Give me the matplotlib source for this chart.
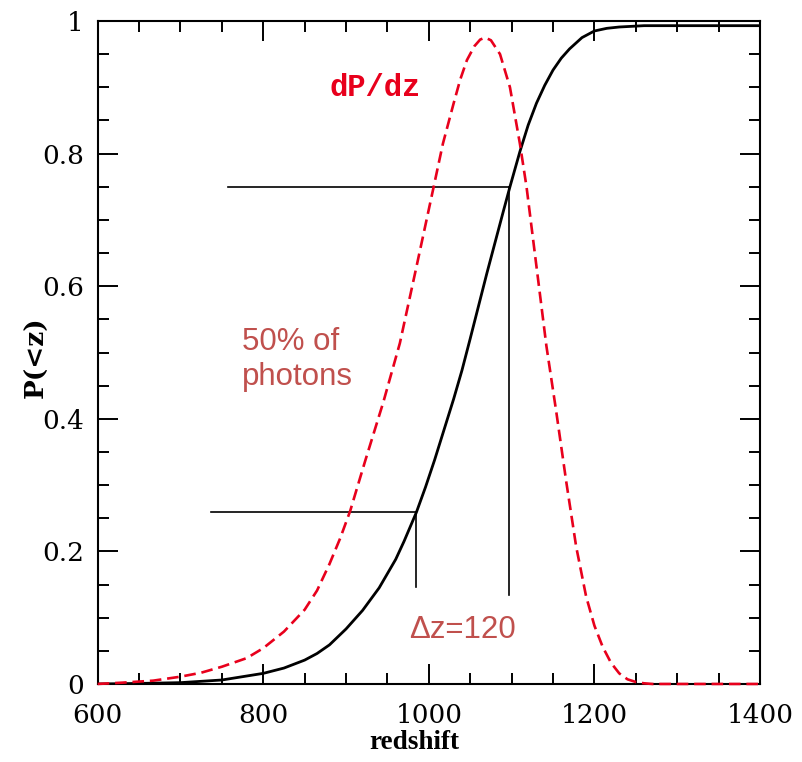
import matplotlib
matplotlib.use("Agg")
import matplotlib.pyplot as plt
from matplotlib.ticker import MultipleLocator

# cumulative probability P(<z)
z_cum = [600, 650, 700, 750, 800, 825, 850, 865, 880, 900, 920, 940, 960, 970,
         985, 996, 1007, 1020, 1030, 1040, 1050, 1060, 1070, 1080, 1090, 1098,
         1110, 1120, 1130, 1140, 1150, 1160, 1170, 1185, 1200, 1215, 1230, 1260,
         1300, 1400]
p_cum = [0.0, 0.0008, 0.002, 0.006, 0.016, 0.024, 0.036, 0.046, 0.059, 0.083,
         0.111, 0.145, 0.188, 0.215, 0.259, 0.297, 0.338, 0.39, 0.43, 0.473,
         0.521, 0.570, 0.619, 0.666, 0.713, 0.75, 0.803, 0.843, 0.876, 0.903,
         0.926, 0.944, 0.958, 0.975, 0.985, 0.989, 0.991, 0.993, 0.993, 0.993]

# differential dP/dz (arbitrary scale)
z_diff = [600, 630, 667, 700, 725, 750, 780, 800, 825, 850, 865, 880, 893, 905,
          923, 945, 965, 985, 1005, 1017, 1030, 1038, 1046, 1055, 1062, 1068,
          1075, 1086, 1098, 1110, 1118, 1130, 1142, 1154, 1166, 1178, 1190, 1200,
          1210, 1220, 1230, 1240, 1250, 1260, 1270, 1400]
p_diff = [0.0, 0.002, 0.005, 0.011, 0.017, 0.026, 0.039, 0.054, 0.079, 0.112,
          0.141, 0.181, 0.220, 0.261, 0.336, 0.425, 0.514, 0.629, 0.745, 0.815,
          0.876, 0.912, 0.941, 0.962, 0.972, 0.975, 0.971, 0.950, 0.900, 0.815,
          0.75, 0.63, 0.51, 0.41, 0.305, 0.207, 0.132, 0.088, 0.056, 0.032,
          0.016, 0.007, 0.003, 0.001, 0.0, 0.0]

# quartile markers: (z of vertical, P level, left end of horizontal, bottom of vertical)
q_z = [985, 1097]
q_p = [0.26, 0.75]
q_left = [737, 757]
q_bottom = [0.146, 0.134]

red = "#e8001c"
soft_red = "#c0504d"
serif = "DejaVu Serif"

fig = plt.figure(figsize=(8.02, 7.62), dpi=100)
ax = fig.add_axes([0.1218, 0.1024, 0.8258, 0.8700])

ax.plot(z_cum, p_cum, color="black", lw=2.0, zorder=3)
ax.plot(z_diff, p_diff, color=red, lw=1.9, dashes=(4.4, 2.2), zorder=4, clip_on=False)

for zq, pq, zl, pb in zip(q_z, q_p, q_left, q_bottom):
    ax.plot([zl, zq], [pq, pq], color="black", lw=1.2, zorder=2)
    ax.plot([zq, zq], [pq, pb], color="black", lw=1.2, zorder=2)

ax.text(880, 0.899, "dP/dz", color=red, fontsize=22, family="Liberation Mono",
        fontweight="bold", va="center", ha="left")
ax.text(774, 0.504, "50% of", color=soft_red, fontsize=22.5, family="Liberation Sans")
ax.text(774, 0.451, "photons", color=soft_red, fontsize=22.5, family="Liberation Sans")
ax.text(976, 0.069, "\u0394z=120", color=soft_red, fontsize=22.5, family="Liberation Sans")

ax.set_xlim(600, 1400)
ax.set_ylim(0, 1)
ax.xaxis.set_minor_locator(MultipleLocator(50))
ax.yaxis.set_minor_locator(MultipleLocator(0.05))
ax.set_xticks([600, 800, 1000, 1200, 1400])
ax.set_xticklabels(["600", "800", "1000", "1200", "1400"])
ax.set_yticks([0, 0.2, 0.4, 0.6, 0.8, 1.0])
ax.set_yticklabels(["0", "0.2", "0.4", "0.6", "0.8", "1"])

ax.tick_params(which="both", direction="in", top=True, right=True, width=1.4,
               labelsize=19)
ax.tick_params(axis="x", pad=14)
ax.tick_params(axis="y", pad=10)
ax.tick_params(which="major", length=14.4)
ax.tick_params(which="minor", length=7.7)
for lab in ax.get_xticklabels() + ax.get_yticklabels():
    lab.set_family(serif)
for sp in ax.spines.values():
    sp.set_linewidth(1.5)

ax.set_xlabel("redshift", fontsize=19.5, family="Liberation Serif", fontweight="bold")
ax.set_ylabel("P(<z)", fontsize=19, family=serif, fontweight="bold")
ax.xaxis.set_label_coords(0.478, -0.088)
ax.yaxis.set_label_coords(-0.093, 0.493)
ax.xaxis.label.set_va("center")
ax.yaxis.label.set_va("center")

fig.savefig("out.png", dpi=100)
